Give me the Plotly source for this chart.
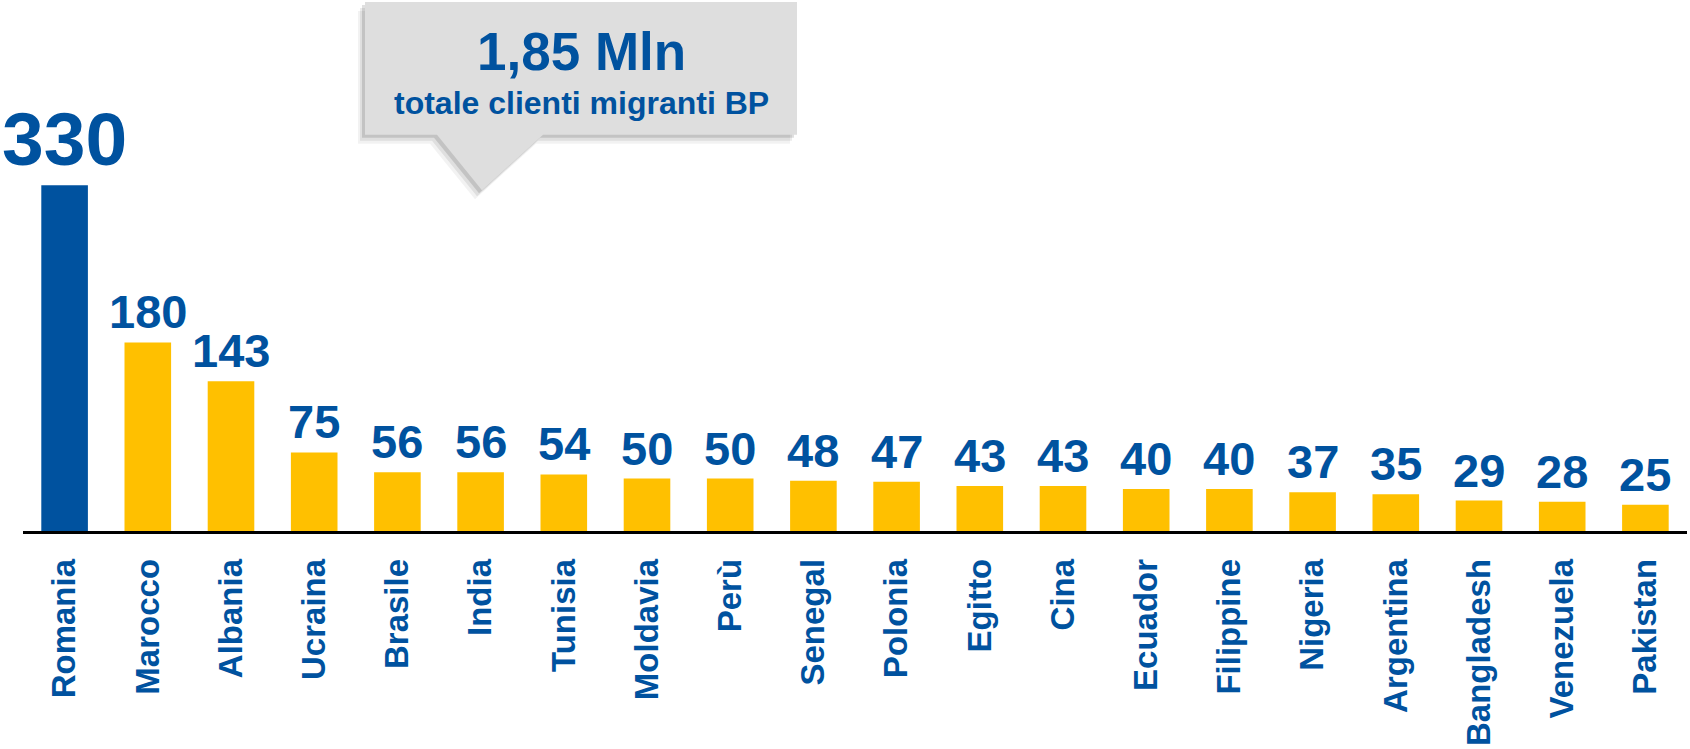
"""
Clienti migranti BP per paese di origine (migliaia)
"""
import plotly.graph_objects as go

# --- dati ---
paesi = [
    "Romania", "Marocco", "Albania", "Ucraina", "Brasile", "India", "Tunisia",
    "Moldavia", "Perù", "Senegal", "Polonia", "Egitto", "Cina", "Ecuador",
    "Filippine", "Nigeria", "Argentina", "Bangladesh", "Venezuela", "Pakistan",
]
clienti = [330, 180, 143, 75, 56, 56, 54, 50, 50, 48, 47, 43, 43, 40, 40, 37, 35, 29, 28, 25]
totale_valore = "1,85 Mln"
totale_testo = "totale clienti migranti BP"

BLU = '#00529F'
GIALLO = '#FFC000'
FONT = 'Liberation Sans, Arial, sans-serif'

W, H = 1690, 749
M_L, M_R, M_T, M_B = 23, 3, 10, 213
PLOT_W = W - M_L - M_R
PLOT_H = H - M_T - M_B
Y_MAX = PLOT_H / 1.0576


def px_x(x):
    return (x - M_L) / PLOT_W


def px_y(y):
    return (H - M_B - y) / PLOT_H


def path(points, dx=0, dy=0):
    pts = [f"{px_x(x + dx):.5f},{px_y(y + dy):.5f}" for x, y in points]
    return "M " + " L ".join(pts) + " Z"


colori = [BLU if i == 0 else GIALLO for i in range(len(paesi))]

fig = go.Figure(go.Bar(
    x=paesi,
    y=clienti,
    marker=dict(color=colori, line=dict(width=0)),
    hoverinfo='x+y'
))

# etichette valori sopra le barre
for i, (p, v) in enumerate(zip(paesi, clienti)):
    fig.add_annotation(
        x=p, y=v, text=str(v),
        xref='x', yref='y',
        showarrow=False,
        yanchor='bottom',
        yshift=2,
        font=dict(family=FONT, size=75 if i == 0 else 47, color=BLU, weight='bold')
    )

# callout
fumetto = [(365, 2), (797, 2), (797, 136), (543, 136), (482, 192), (437, 136), (365, 136)]
for dx, dy, col in [(-7, 9, 'rgba(0,0,0,0.05)'), (-5, 6, 'rgba(0,0,0,0.08)'), (-3, 3, 'rgba(0,0,0,0.12)')]:
    fig.add_shape(type='path', path=path(fumetto, dx, dy), xref='paper', yref='paper',
                  fillcolor=col, line=dict(width=0), layer='above')
fig.add_shape(type='path', path=path(fumetto), xref='paper', yref='paper',
              fillcolor='#DEDEDE', line=dict(width=0), layer='above')

fig.add_annotation(
    x=px_x(581), y=px_y(52), xref='paper', yref='paper',
    xanchor='center', yanchor='middle',
    text=totale_valore, showarrow=False,
    font=dict(family=FONT, size=53, color=BLU, weight='bold')
)
fig.add_annotation(
    x=px_x(581), y=px_y(104), xref='paper', yref='paper',
    xanchor='center', yanchor='middle',
    text=totale_testo, showarrow=False,
    font=dict(family=FONT, size=32, color=BLU, weight='bold')
)

fig.update_layout(
    width=W,
    height=H,
    margin=dict(l=M_L, r=M_R, t=M_T, b=M_B),
    plot_bgcolor='white',
    paper_bgcolor='white',
    showlegend=False,
    bargap=0.44,
    xaxis=dict(
        range=[-0.5, len(paesi) - 0.5],
        tickangle=-90,
        tickfont=dict(family=FONT, size=33, color=BLU, weight='bold'),
        ticks='',
        ticklabelstandoff=12,
        showline=True,
        linecolor='black',
        linewidth=2.5,
        showgrid=False,
        zeroline=False,
        fixedrange=True
    ),
    yaxis=dict(
        range=[0, Y_MAX],
        visible=False,
        showgrid=False,
        zeroline=False,
        fixedrange=True
    )
)

# pagina senza margini: la figura occupa tutta la finestra
fig.write_html(
    "out.html",
    config={'displayModeBar': False},
    post_script="document.body.style.margin='0';document.body.style.overflow='hidden';"
)
